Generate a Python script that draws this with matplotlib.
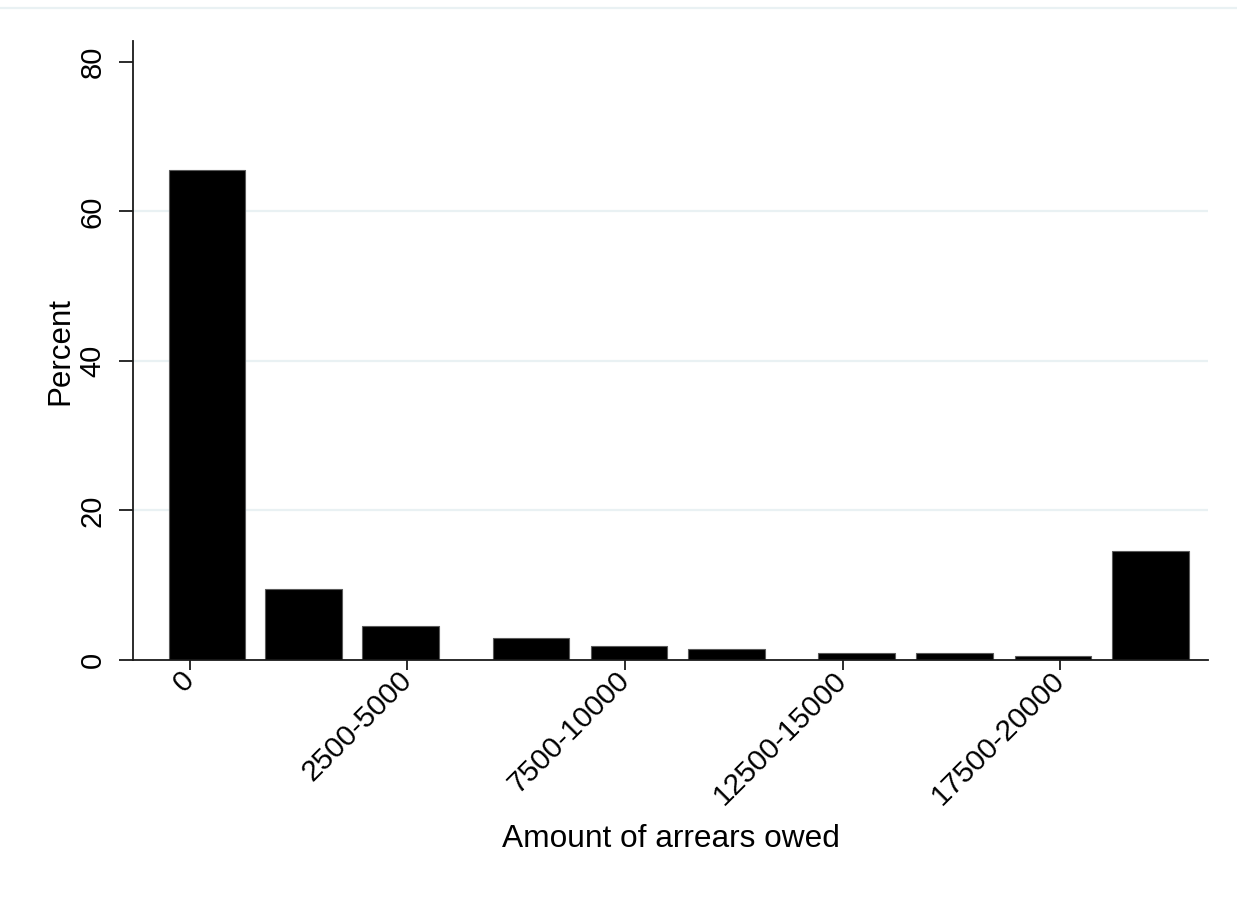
import matplotlib
matplotlib.use("Agg")
import matplotlib.pyplot as plt
from matplotlib.lines import Line2D

# Share of households by amount of arrears owed (percent)
categories = ["0", "1-2500", "2500-5000", "5000-7500", "7500-10000",
              "10000-12500", "12500-15000", "15000-17500", "17500-20000",
              "20000+"]
category_codes = [1, 2, 3, 4, 5, 6, 7, 8, 9, 10]
bin_mid = [1.156, 2.044, 2.936, 4.136, 5.037, 5.933, 7.129, 8.030, 8.936, 9.832]
percent = [65.6, 9.5, 4.6, 2.95, 1.9, 1.5, 0.95, 0.95, 0.5, 14.6]
y_ticks = [0, 20, 40, 60, 80]
x_ticks = [1, 3, 5, 7, 9]

plt.rcParams['font.family'] = ['Liberation Sans', 'DejaVu Sans']

fig = plt.figure(figsize=(12.37, 8.97), dpi=100)
ax = fig.add_axes([0.1075, 0.2642, 0.8691, 0.6901])

grid_color = "#e9f1f3"
for g in [20, 40, 60]:
    ax.axhline(g, color=grid_color, lw=1.6, zorder=0)

ax.bar(bin_mid, percent, width=0.70, color="black", edgecolor="#5a5a5a",
       linewidth=0.8, zorder=2)

ax.set_xlim(0.476, 10.361)
ax.set_ylim(0, 82.8)

for side in ["top", "right"]:
    ax.spines[side].set_visible(False)
for side in ["left", "bottom"]:
    ax.spines[side].set_linewidth(1.3)
    ax.spines[side].set_color("#1a1a1a")

ax.set_yticks(y_ticks)
ax.set_yticklabels([str(v) for v in y_ticks], rotation=90, va="center")
ax.tick_params(axis="y", length=10, width=1.3, pad=9, labelsize=21,
               color="#1a1a1a")

ax.set_xticks(x_ticks)
label_map = dict(zip(category_codes, categories))
ax.set_xticklabels([label_map[c] for c in x_ticks], rotation=45,
                   ha="right", va="center", rotation_mode="anchor")
ax.tick_params(axis="x", length=7.5, width=1.3, pad=4, labelsize=21.5,
               color="#1a1a1a")

ax.set_ylabel("Percent", fontsize=22.5)
ax.yaxis.set_label_coords(-0.054, 0.5)
ax.set_xlabel("Amount of arrears owed", fontsize=22.8)
ax.xaxis.set_label_coords(0.5, -0.265)

# thin rule along the top of the graph region
fig.add_artist(Line2D([0, 1], [1 - 8 / 897, 1 - 8 / 897],
                      transform=fig.transFigure, color=grid_color, lw=1.6))

fig.savefig("out.png", dpi=100, facecolor="white")
